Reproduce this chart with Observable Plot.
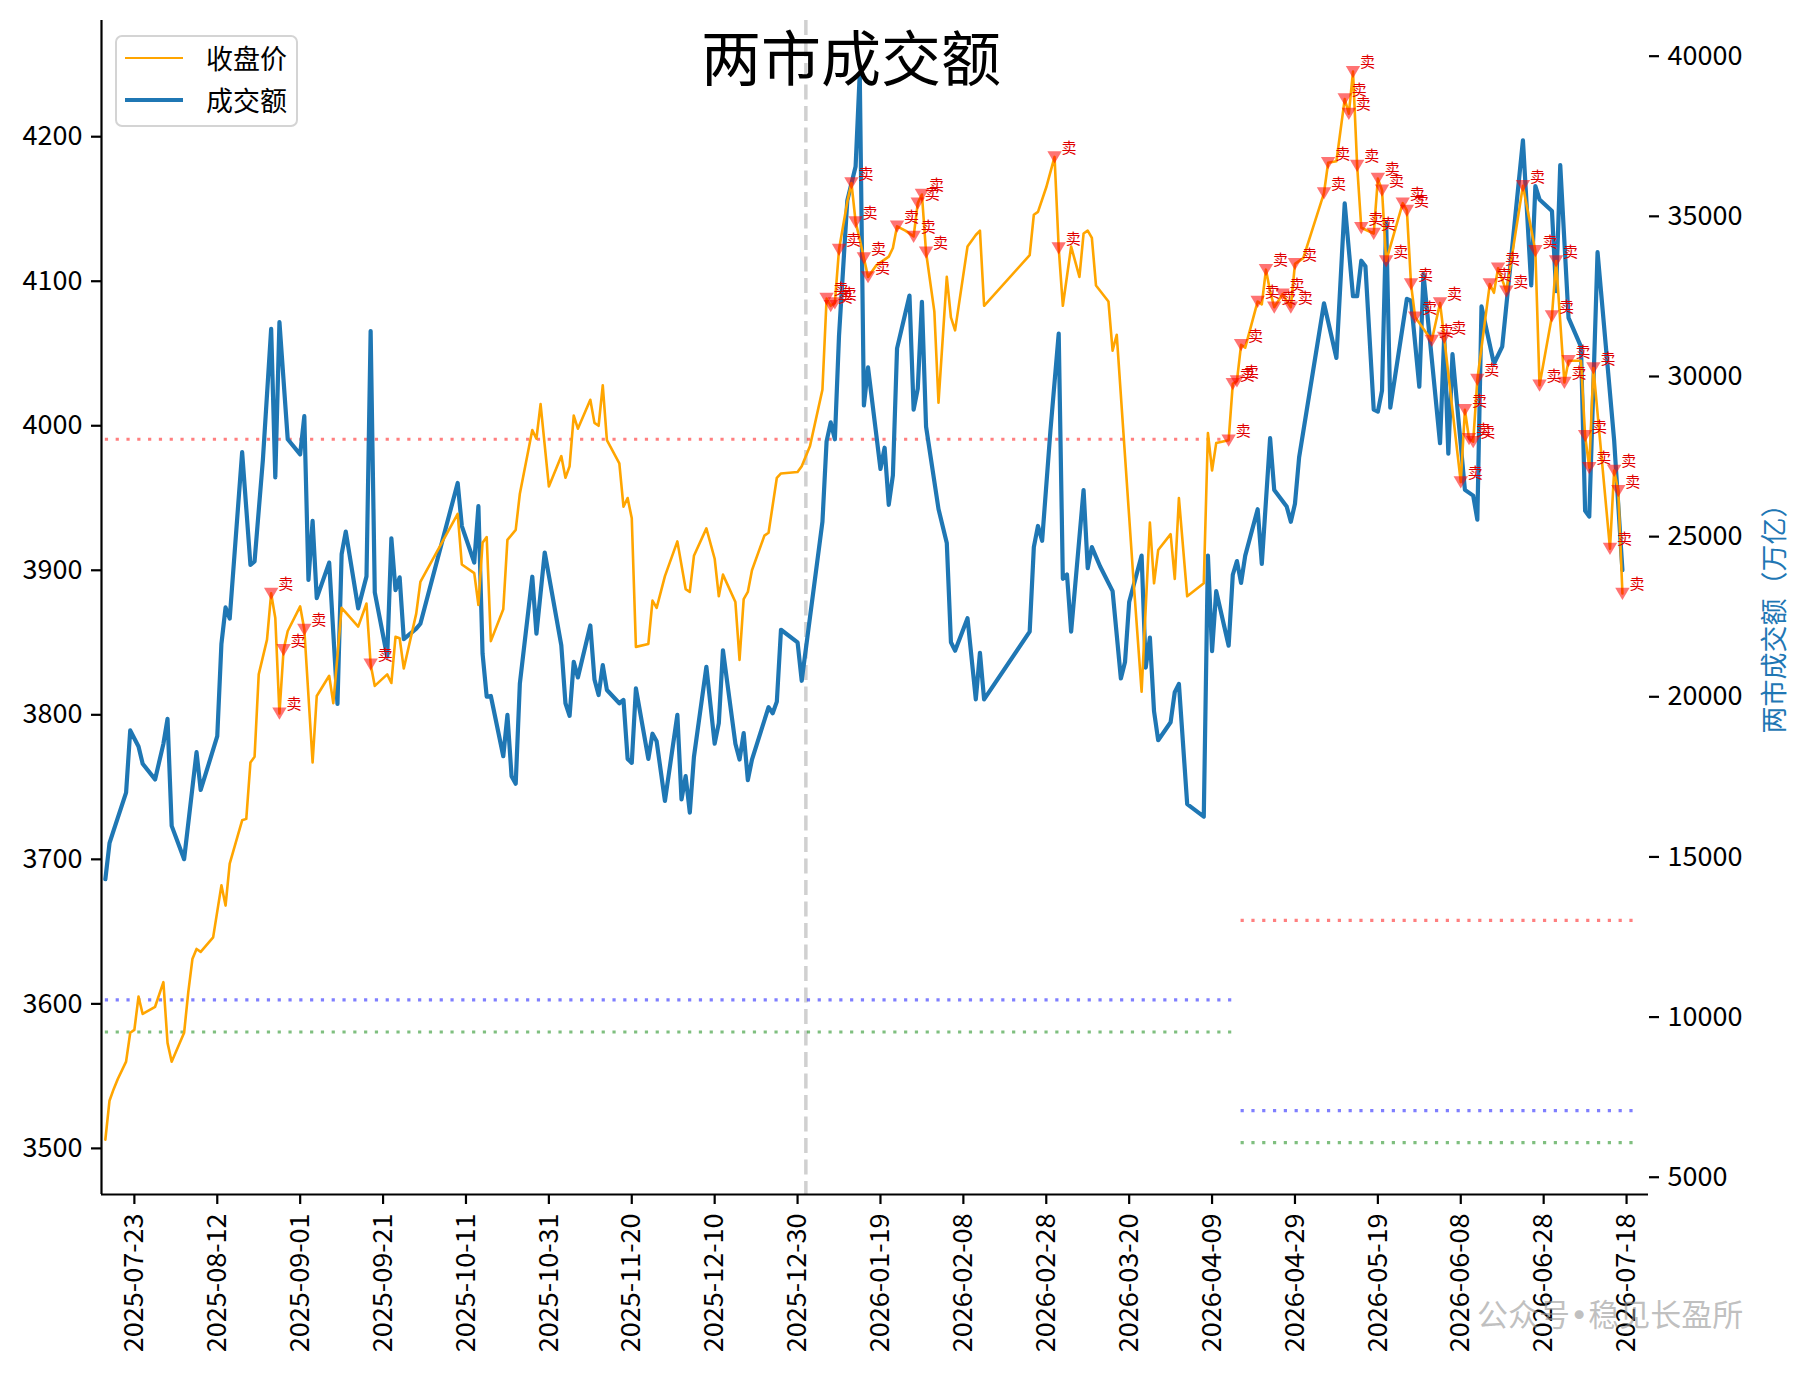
<!DOCTYPE html>
<html><head><meta charset="utf-8">
<script src="https://cdn.jsdelivr.net/npm/d3@7"></script>
<script src="https://cdn.jsdelivr.net/npm/@observablehq/plot@0.6"></script>
<style>
html,body{margin:0;padding:0;background:#fff;}
#wrap{position:relative;width:1806px;height:1375px;overflow:hidden;font-family:"Noto Sans CJK SC","Noto Sans",sans-serif;}
#wrap svg{position:absolute;left:0;top:0;}
.ov{position:absolute;white-space:nowrap;line-height:1;}
.bul{font-family:"DejaVu Sans",sans-serif;}
</style></head><body><div id="wrap"></div>
<script>
const closeDates = [
"2025-07-16","2025-07-17","2025-07-18","2025-07-19","2025-07-21","2025-07-22","2025-07-23","2025-07-24","2025-07-25","2025-07-28","2025-07-30","2025-07-31",
"2025-08-01","2025-08-04","2025-08-05","2025-08-06","2025-08-07","2025-08-08","2025-08-11","2025-08-13","2025-08-14","2025-08-15","2025-08-18","2025-08-19","2025-08-20","2025-08-21","2025-08-22","2025-08-24","2025-08-25","2025-08-26","2025-08-27","2025-08-28","2025-08-29",
"2025-09-01","2025-09-02","2025-09-04","2025-09-05","2025-09-08","2025-09-09","2025-09-11","2025-09-15","2025-09-17","2025-09-18","2025-09-19","2025-09-22","2025-09-23","2025-09-24","2025-09-25","2025-09-26","2025-09-29","2025-09-30",
"2025-10-09","2025-10-10","2025-10-13","2025-10-14","2025-10-15","2025-10-16","2025-10-17","2025-10-20","2025-10-21","2025-10-23","2025-10-24","2025-10-27","2025-10-28","2025-10-29","2025-10-31",
"2025-11-03","2025-11-04","2025-11-05","2025-11-06","2025-11-07","2025-11-10","2025-11-11","2025-11-12","2025-11-13","2025-11-14","2025-11-17","2025-11-18","2025-11-19","2025-11-20","2025-11-21","2025-11-24","2025-11-25","2025-11-26","2025-11-28",
"2025-12-01","2025-12-03","2025-12-04","2025-12-05","2025-12-08","2025-12-10","2025-12-11","2025-12-12","2025-12-15","2025-12-16","2025-12-17","2025-12-18","2025-12-19","2025-12-22","2025-12-23","2025-12-25","2025-12-26","2025-12-30","2025-12-31",
"2026-01-02","2026-01-05","2026-01-06","2026-01-07","2026-01-08","2026-01-09","2026-01-11","2026-01-12","2026-01-13","2026-01-14","2026-01-15","2026-01-16","2026-01-18","2026-01-21","2026-01-22","2026-01-23","2026-01-25","2026-01-27","2026-01-28","2026-01-29","2026-01-30",
"2026-02-01","2026-02-02","2026-02-04","2026-02-05","2026-02-06","2026-02-09","2026-02-11","2026-02-12","2026-02-13","2026-02-24","2026-02-25","2026-02-26","2026-02-28",
"2026-03-02","2026-03-03","2026-03-04","2026-03-06","2026-03-08","2026-03-09","2026-03-10","2026-03-11","2026-03-12","2026-03-15","2026-03-16","2026-03-17","2026-03-21","2026-03-23","2026-03-25","2026-03-26","2026-03-27","2026-03-30","2026-03-31",
"2026-04-01","2026-04-03","2026-04-07","2026-04-08","2026-04-09","2026-04-10","2026-04-13","2026-04-14","2026-04-15","2026-04-16","2026-04-17","2026-04-20","2026-04-21","2026-04-22","2026-04-23","2026-04-24","2026-04-26","2026-04-28","2026-04-29",
"2026-05-01","2026-05-06","2026-05-07","2026-05-09","2026-05-11","2026-05-12","2026-05-13","2026-05-14","2026-05-15","2026-05-18","2026-05-19","2026-05-20","2026-05-21","2026-05-25","2026-05-26","2026-05-27","2026-05-28",
"2026-06-01","2026-06-03","2026-06-04","2026-06-08","2026-06-09","2026-06-10","2026-06-11","2026-06-12","2026-06-15","2026-06-16","2026-06-17","2026-06-19","2026-06-23","2026-06-26","2026-06-27","2026-06-30",
"2026-07-01","2026-07-03","2026-07-04","2026-07-07","2026-07-08","2026-07-09","2026-07-10","2026-07-14","2026-07-15","2026-07-16","2026-07-17"
];
const closeValues = [
3506,3533,3541,3548,3560,3580,3582,3605,3593,3598,3615,3573,
3560,3580,3608,3631,3638,3636,3646,3682,3668,3697,3727,3728,3767,3771,3828,3852,3884,3867,3801,3845,3858,
3875,3859,3767,3813,3827,3808,3874,3861,3877,3835,3820,3828,3822,3854,3853,3832,3870,3892,
3939,3904,3898,3876,3919,3923,3851,3873,3921,3928,3953,3997,3991,4015,3958,
3979,3964,3972,4007,3998,4018,4002,4000,4028,3990,3974,3944,3950,3936,3847,3849,3879,3874,3896,
3920,3887,3885,3910,3929,3908,3882,3897,3878,3838,3880,3885,3900,3924,3926,3964,3967,3968,3972,
3986,4025,4088,4083,4085,4122,4155,4168,4141,4129,4116,4103,4111,4117,4123,4138,4135,4131,4154,4160,4120,
4079,4016,4103,4075,4066,4124,4132,4135,4083,4118,4146,4148,4165,
4186,4123,4083,4124,4103,4133,4135,4130,4097,4086,4052,4063,3895,3816,3933,3891,3914,3925,3894,
3950,3882,3891,3995,3969,3988,3990,4029,4031,4056,4054,4086,4084,4108,4093,4082,4091,4082,4112,
4116,4161,4182,4183,4226,4216,4245,4180,4137,4133,4171,4163,4114,4154,4149,4098,4075,
4059,4085,4061,3961,4011,3991,3989,4032,4098,4092,4109,4093,4166,4121,4028,4076,
4114,4030,4045,4045,3993,3971,4040,3915,3969,3955,3884
];
const amountDates = [
"2025-07-16","2025-07-17","2025-07-18","2025-07-21","2025-07-22","2025-07-24","2025-07-25","2025-07-28","2025-07-30","2025-07-31",
"2025-08-01","2025-08-04","2025-08-07","2025-08-08","2025-08-12","2025-08-13","2025-08-14","2025-08-15","2025-08-18","2025-08-20","2025-08-21","2025-08-23","2025-08-25","2025-08-26","2025-08-27","2025-08-29",
"2025-09-01","2025-09-02","2025-09-03","2025-09-04","2025-09-05","2025-09-08","2025-09-10","2025-09-11","2025-09-12","2025-09-15","2025-09-17","2025-09-18","2025-09-19","2025-09-22","2025-09-23","2025-09-24","2025-09-25","2025-09-26","2025-09-29","2025-09-30",
"2025-10-09","2025-10-10","2025-10-13","2025-10-14","2025-10-15","2025-10-16","2025-10-17","2025-10-20","2025-10-21","2025-10-22","2025-10-23","2025-10-24","2025-10-27","2025-10-28","2025-10-30",
"2025-11-03","2025-11-04","2025-11-05","2025-11-06","2025-11-07","2025-11-10","2025-11-11","2025-11-12","2025-11-13","2025-11-14","2025-11-17","2025-11-18","2025-11-19","2025-11-20","2025-11-21","2025-11-24","2025-11-25","2025-11-26","2025-11-28",
"2025-12-01","2025-12-02","2025-12-03","2025-12-04","2025-12-05","2025-12-08","2025-12-10","2025-12-11","2025-12-12","2025-12-15","2025-12-16","2025-12-17","2025-12-18","2025-12-19","2025-12-23","2025-12-24","2025-12-25","2025-12-26","2025-12-30","2025-12-31",
"2026-01-05","2026-01-06","2026-01-07","2026-01-08","2026-01-09","2026-01-11","2026-01-13","2026-01-14","2026-01-15","2026-01-16","2026-01-18","2026-01-19","2026-01-20","2026-01-21","2026-01-22","2026-01-23","2026-01-26","2026-01-27","2026-01-28","2026-01-29","2026-01-30",
"2026-02-02","2026-02-04","2026-02-05","2026-02-06","2026-02-09","2026-02-11","2026-02-12","2026-02-13","2026-02-24","2026-02-25","2026-02-26","2026-02-27",
"2026-03-01","2026-03-03","2026-03-04","2026-03-05","2026-03-06","2026-03-09","2026-03-10","2026-03-11","2026-03-13","2026-03-16","2026-03-18","2026-03-19","2026-03-20","2026-03-23","2026-03-24","2026-03-25","2026-03-26","2026-03-27","2026-03-30","2026-03-31",
"2026-04-01","2026-04-03","2026-04-07","2026-04-08","2026-04-09","2026-04-10","2026-04-13","2026-04-14","2026-04-15","2026-04-16","2026-04-17","2026-04-20","2026-04-21","2026-04-23","2026-04-24","2026-04-27","2026-04-28","2026-04-29","2026-04-30",
"2026-05-06","2026-05-09","2026-05-11","2026-05-13","2026-05-14","2026-05-15","2026-05-16","2026-05-18","2026-05-19","2026-05-20","2026-05-21","2026-05-22","2026-05-26","2026-05-27","2026-05-29","2026-05-30",
"2026-06-03","2026-06-04","2026-06-05","2026-06-06","2026-06-09","2026-06-11","2026-06-12","2026-06-13","2026-06-16","2026-06-18","2026-06-23","2026-06-25","2026-06-26","2026-06-27","2026-06-30",
"2026-07-01","2026-07-02","2026-07-04","2026-07-07","2026-07-08","2026-07-09","2026-07-11","2026-07-15","2026-07-17"
];
const amountValues = [
14303,15430,15830,17010,18950,18450,17910,17420,18530,19310,
15970,14930,18270,17090,18770,21650,22790,22440,27640,24120,24230,27390,31490,26850,31700,28040,
27570,28760,23650,25490,23080,24190,19780,24450,25160,22760,23760,31420,23260,21250,24950,23330,23730,21800,22125,22280,
26674,25330,24192,25950,21350,20005,20025,18144,19436,17523,17285,20418,23748,21969,24505,
21608,19798,19405,21090,20604,22228,20542,20056,20987,20211,19798,19901,18061,17937,20263,18061,18847,18609,16748,
19436,16800,17523,16386,18123,20935,18536,19178,21453,18536,18040,18867,17399,18040,19674,19488,19850,22093,21700,20500,
25465,27973,28567,28039,31273,35497,36553,39457,29095,30283,28171,27115,27775,25993,26917,30877,32527,28963,29623,32329,28435,
25861,24805,21703,21439,22455,19921,21373,19921,22033,24673,25333,24871,
28303,31339,23683,23815,22033,26455,24013,24673,24067,23299,20571,21083,22958,24407,20912,21850,19548,18645,19207,20145,
20400,16650,16258,24407,21424,23299,21594,23810,24237,23555,24407,25857,24152,28073,26453,25942,25464,26027,27476,
32284,30579,35405,32506,32506,33614,33444,28965,28905,29561,34810,29024,32424,32364,29680,33200,
27915,31255,27593,30695,26460,26281,25529,32186,30397,30933,37375,32842,35944,35526,35168,
32663,36600,31828,30933,25804,25624,33880,28011,23954
];
const sellDates = [
"2025-08-25","2025-08-27","2025-08-28","2025-09-02","2025-09-18",
"2026-01-06","2026-01-07","2026-01-08","2026-01-09","2026-01-12","2026-01-13","2026-01-15","2026-01-16","2026-01-23","2026-01-27","2026-01-28","2026-01-29","2026-01-30",
"2026-03-02","2026-03-03",
"2026-04-13","2026-04-14","2026-04-15","2026-04-16","2026-04-20","2026-04-22","2026-04-24","2026-04-26","2026-04-28","2026-04-29",
"2026-05-06","2026-05-07","2026-05-11","2026-05-12","2026-05-13","2026-05-14","2026-05-15","2026-05-18","2026-05-19","2026-05-20","2026-05-21","2026-05-25","2026-05-26","2026-05-27","2026-05-28",
"2026-06-01","2026-06-03","2026-06-04","2026-06-08","2026-06-09","2026-06-10","2026-06-11","2026-06-12","2026-06-15","2026-06-17","2026-06-19","2026-06-23","2026-06-26","2026-06-27","2026-06-30",
"2026-07-01","2026-07-03","2026-07-04","2026-07-08","2026-07-09","2026-07-10","2026-07-14","2026-07-15","2026-07-16","2026-07-17"
];
const sellLabel = "卖";
const leftTicks = [3500,3600,3700,3800,3900,4000,4100,4200];
const rightTicks = [5000,10000,15000,20000,25000,30000,35000,40000];
const xTickLabels = ["2025-07-23","2025-08-12","2025-09-01","2025-09-21","2025-10-11","2025-10-31","2025-11-20","2025-12-10","2025-12-30","2026-01-19","2026-02-08","2026-02-28","2026-03-20","2026-04-09","2026-04-29","2026-05-19","2026-06-08","2026-06-28","2026-07-18"];
const refColors = ["red","blue","green","red","blue","green"];
const refStarts = ["2025-07-16","2025-07-16","2025-07-16","2026-04-16","2026-04-16","2026-04-16"];
const refEnds   = ["2026-04-13","2026-04-15","2026-04-15","2026-07-21","2026-07-21","2026-07-21"];
const refLevels = [28040,10540,9535,13020,7080,6080];
const markerDate = "2026-01-01";
const leftDomain = [3468.1, 4280.4];
const rightDomain = [4461, 41114];
const xDomain = ["2025-07-15T01:40:00Z","2026-07-23T07:00:00Z"];
const titleText = "两市成交额";
const rightLabel = "两市成交额（万亿）";
const legendLabels = ["收盘价","成交额"];
const legendColors = ["#ffa500","#1f77b4"];
const watermarkParts = ["公众号","•","稳见长盈所"];

const FONT = '"Noto Sans CJK SC","Noto Sans",sans-serif';
const parse = d3.utcParse("%Y-%m-%d");
const k = (leftDomain[1]-leftDomain[0])/(rightDomain[1]-rightDomain[0]);
const toLeft = a => leftDomain[0] + (a - rightDomain[0]) * k;
const fromLeft = p => rightDomain[0] + (p - leftDomain[0]) / k;

const close = closeDates.map((d,i)=>({date: parse(d), value: closeValues[i]}));
const amount = amountDates.map((d,i)=>({date: parse(d), value: amountValues[i]}));
const closeMap = new Map(close.map(d=>[+d.date, d.value]));
const sells = sellDates.map(d=>({date: parse(d), value: closeMap.get(+parse(d))})).filter(d=>d.value!=null);
const refs = refColors.map((c,i)=>({color:c, start: parse(refStarts[i]), end: parse(refEnds[i]), level: refLevels[i]}));
const x0 = new Date(xDomain[0]);

const triDown = {draw(ctx, size){ const r = Math.sqrt(size/Math.PI); ctx.moveTo(-r,-0.8*r); ctx.lineTo(r,-0.8*r); ctx.lineTo(0,0.9*r); ctx.closePath(); }};

const chart = Plot.plot({
  width: 1806, height: 1375,
  marginLeft: 101, marginRight: 158, marginTop: 20, marginBottom: 181,
  style: {fontFamily: FONT, fontSize: "27px", color: "#000", background: "transparent", overflow: "visible"},
  x: {type: "utc", domain: [x0, new Date(xDomain[1])], label: null},
  y: {domain: leftDomain, label: null},
  marks: [
    Plot.ruleX([parse(markerDate)], {stroke: "#d0d0d0", strokeWidth: 3.5, strokeDasharray: "15,6.5"}),
    Plot.ruleY(refs, {y: d=>toLeft(d.level), x1: "start", x2: "end", stroke: "color", strokeOpacity: 0.5, strokeWidth: 3.2, strokeDasharray: "3.2,7.6"}),
    Plot.line(amount, {x: "date", y: d=>toLeft(d.value), stroke: "#1f77b4", strokeWidth: 4.2, strokeLinejoin: "round"}),
    Plot.line(close, {x: "date", y: "value", stroke: "#ffa500", strokeWidth: 2.6, strokeLinejoin: "round"}),
    Plot.dot(sells, {x: "date", y: "value", symbol: triDown, r: 7.2, fill: "red", fillOpacity: 0.55, stroke: null}),
    Plot.text(sells, {x: "date", y: "value", text: () => sellLabel, dx: 7, dy: -9, textAnchor: "start", fill: "#e00000", fontSize: 15}),
    Plot.axisY(leftTicks, {anchor: "left", tickSize: 10, tickPadding: 9, strokeWidth: 2.2, fontSize: 27, label: null, tickFormat: d=>String(d)}),
    Plot.axisY(rightTicks.map(toLeft), {anchor: "right", tickSize: 10, tickPadding: 9, strokeWidth: 2.2, fontSize: 27, label: null, tickFormat: d=>String(Math.round(fromLeft(d)))}),
    Plot.axisX(xTickLabels.map(parse), {anchor: "bottom", tickSize: 10, tickPadding: 9, tickRotate: -90, strokeWidth: 2.2, fontSize: 27, label: null, tickFormat: d3.utcFormat("%Y-%m-%d")}),
    Plot.ruleX([x0], {stroke: "#000", strokeWidth: 2.2}),
    Plot.ruleY([leftDomain[0]], {stroke: "#000", strokeWidth: 2.2})
  ]
});
const wrap = document.getElementById("wrap");
wrap.appendChild(chart);

function ov(text, css){ const d=document.createElement("div"); d.className="ov"; d.textContent=text; Object.assign(d.style, css); wrap.appendChild(d); return d; }
ov(titleText, {left:"851px", top:"25px", transform:"translateX(-50%)", fontSize:"60px", color:"#000"});
ov(rightLabel, {left:"1772px", top:"612px", transform:"translate(-50%,-50%) rotate(-90deg)", fontSize:"27px", color:"#1f77b4"});
const wm = ov("", {left:"1477px", top:"1297px", fontSize:"31px", color:"rgba(150,150,150,0.6)"});
watermarkParts.forEach((p,i)=>{ const s=document.createElement("span"); s.textContent=p; if(i===1) s.className="bul"; wm.appendChild(s); });
// legend
const lg = document.createElement("div");
Object.assign(lg.style, {position:"absolute", left:"115px", top:"35px", width:"179px", height:"88px", border:"2px solid #d4d4d4", borderRadius:"7px", background:"rgba(255,255,255,0.8)"});
wrap.appendChild(lg);
legendLabels.forEach((t,i)=>{
  const cy = 58 + i*42;
  const ln = document.createElement("div");
  Object.assign(ln.style, {position:"absolute", left:"125px", top:(cy - (i?2.1:1.3))+"px", width:"58px", height:(i?4.2:2.6)+"px", background:legendColors[i]});
  wrap.appendChild(ln);
  ov(t, {left:"206px", top:(cy-14)+"px", fontSize:"27px", color:"#000"});
});
</script></body></html>
